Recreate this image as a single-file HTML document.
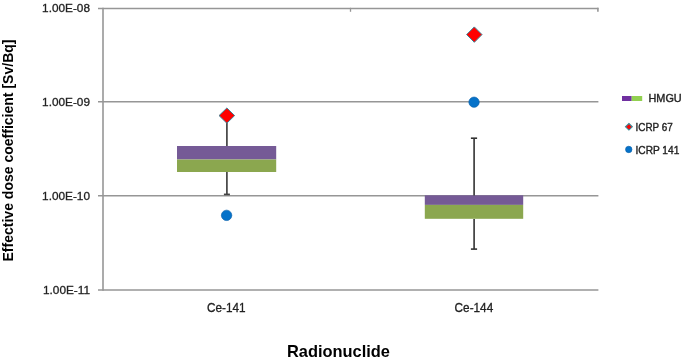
<!DOCTYPE html>
<html><head><meta charset="utf-8">
<style>
html,body{margin:0;padding:0;background:#fff;}
body{width:685px;height:361px;overflow:hidden;}
svg{display:block;will-change:transform;}
text{font-family:"Liberation Sans",sans-serif;}
</style></head>
<body>
<svg width="685" height="361" viewBox="0 0 685 361">
<rect x="0" y="0" width="685" height="361" fill="#fff"/>
<!-- gridlines -->
<g stroke="#969696" stroke-width="1.6" fill="none">
<line x1="98" y1="8.45" x2="598.4" y2="8.45"/>
<line x1="98" y1="101.75" x2="598.4" y2="101.75"/>
<line x1="98" y1="195.75" x2="598.4" y2="195.75"/>
<line x1="98" y1="290.05" x2="598.4" y2="290.05"/>
<line x1="103" y1="7.8" x2="103" y2="290.8"/>
<line x1="597.9" y1="7.8" x2="597.9" y2="11.7"/>
<line x1="350.5" y1="7.8" x2="350.5" y2="11.8" stroke-width="1.3"/>
</g>
<!-- boxes -->
<rect x="177" y="146" width="99.2" height="13.5" fill="#755a96"/>
<rect x="177" y="159.5" width="99.2" height="12.5" fill="#8ba74f"/>
<rect x="424.8" y="195.3" width="98.4" height="9.6" fill="#755a96"/>
<rect x="424.8" y="204.9" width="98.4" height="13.9" fill="#8ba74f"/>
<!-- whiskers -->
<g stroke="#444" stroke-width="1.7" fill="none">
<line x1="226.9" y1="116" x2="226.9" y2="146"/>
<line x1="226.9" y1="172" x2="226.9" y2="194.6"/>
<line x1="223.9" y1="194.4" x2="229.9" y2="194.4"/>
</g>
<g stroke="#333" stroke-width="1.6" fill="none">
<line x1="474.1" y1="138.2" x2="474.1" y2="195.5"/>
<line x1="470.9" y1="138.2" x2="477.1" y2="138.2"/>
<line x1="474.1" y1="219" x2="474.1" y2="249.1"/>
<line x1="470.9" y1="249.1" x2="477.1" y2="249.1"/>
</g>
<!-- markers -->
<g fill="#ff0000" stroke="#3a8597" stroke-width="1">
<polygon points="226.85,108 234.65,115.6 226.85,123.2 219.05,115.6"/>
<polygon points="474.3,26.9 482,34.6 474.3,42.3 466.6,34.6"/>
</g>
<polygon points="628.9,123.5 632.3,126.8 628.9,130.1 625.5,126.8" fill="#ff0000" stroke="#3a8a98" stroke-width="1.1"/>
<g fill="#0572c9" stroke="#0b63ad" stroke-width="0.7">
<circle cx="226.6" cy="215.35" r="5.2"/>
<circle cx="474.05" cy="102.2" r="5.15"/>
<circle cx="628.75" cy="149.45" r="3.2"/>
</g>
<!-- legend swatch -->
<rect x="622" y="96" width="9.7" height="5" fill="#7030a0"/>
<rect x="631.7" y="96" width="10.5" height="5" fill="#92d050"/>
<!-- text -->
<g font-size="11.8" fill="#222" stroke="#222" stroke-width="0.3">
<text x="90" y="12.0" text-anchor="end">1.00E-08</text>
<text x="90" y="105.6" text-anchor="end">1.00E-09</text>
<text x="90" y="199.9" text-anchor="end">1.00E-10</text>
<text x="90" y="293.6" text-anchor="end">1.00E-11</text>
<text x="226.3" y="311.6" font-size="12.1" text-anchor="middle" textLength="38.6" lengthAdjust="spacingAndGlyphs">Ce-141</text>
<text x="473.9" y="311.6" font-size="12.1" text-anchor="middle" textLength="38.6" lengthAdjust="spacingAndGlyphs">Ce-144</text>
</g>
<g font-size="11.6" fill="#222" stroke="#222" stroke-width="0.4">
<text x="648.5" y="102" textLength="33.2" lengthAdjust="spacingAndGlyphs">HMGU</text>
<text x="635.5" y="130.7" textLength="37.2" lengthAdjust="spacingAndGlyphs">ICRP 67</text>
<text x="635.5" y="154" textLength="43.8" lengthAdjust="spacingAndGlyphs">ICRP 141</text>
</g>
<g font-size="15.5" font-weight="bold" fill="#000">
<text x="287" y="357.3" font-size="16.3" textLength="103" lengthAdjust="spacingAndGlyphs">Radionuclide</text>
<text transform="translate(12.7,261.5) rotate(-90)" x="0" y="0" textLength="222" lengthAdjust="spacingAndGlyphs">Effective dose coefficient [Sv/Bq]</text>
</g>
</svg>
</body></html>
